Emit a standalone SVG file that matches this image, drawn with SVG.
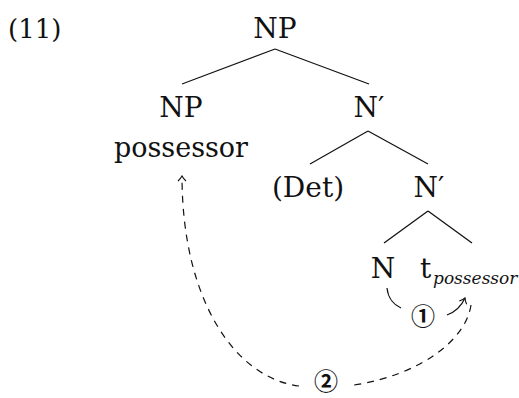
<svg xmlns="http://www.w3.org/2000/svg" width="519" height="398" viewBox="0 0 519 398">
<defs>
<style>
text{font-family:"DejaVu Serif","Liberation Serif",serif;fill:#111;}
.lab{font-size:28px;text-anchor:middle;}
.sub{font-size:17px;font-style:italic;}
.circ{font-family:"Noto Sans CJK JP","DejaVu Sans",sans-serif;font-size:24px;font-weight:bold;text-anchor:middle;}
.edge{stroke:#111;stroke-width:1.2;fill:none;}
.dash{stroke-dasharray:7,6;}
</style>
<marker id="arr" viewBox="-6 -6 8 12" markerWidth="8" markerHeight="12" refX="0" refY="0" orient="auto" markerUnits="userSpaceOnUse">
<path d="M-5,-4 Q-2,-1 0,0 Q-2,1 -5,4" fill="none" stroke="#111" stroke-width="1.1"/>
</marker>
</defs>
<text x="8" y="38" style="font-size:26px">(11)</text>
<g id="connectors">
<line class="edge" x1="275" y1="49" x2="182" y2="84"/>
<line class="edge" x1="275" y1="49" x2="369" y2="84"/>
<line class="edge" x1="368" y1="131" x2="310" y2="164"/>
<line class="edge" x1="368" y1="131" x2="428" y2="164"/>
<line class="edge" x1="428" y1="211" x2="384" y2="243"/>
<line class="edge" x1="428" y1="211" x2="472" y2="243"/>
<path class="edge" d="M387,288 C388,298 394,305 401,308"/>
<path class="edge" d="M447,315 C455,312 461,307 465,298" marker-end="url(#arr)"/>
<path class="edge dash" d="M471,305 C466,340 420,375 354,385"/>
<path class="edge dash" d="M299,386 C235,378 182,300 182,176" marker-end="url(#arr)"/>
</g>
<g id="n-root"><text class="lab" x="275" y="38">NP</text></g>
<g id="n-np"><text class="lab" x="181" y="117">NP</text><text class="lab" x="181" y="157" textLength="134" lengthAdjust="spacingAndGlyphs">possessor</text></g>
<g id="n-nbar1"><text class="lab" x="369" y="117">N′</text></g>
<g id="n-det"><text class="lab" x="308" y="197">(Det)</text></g>
<g id="n-nbar2"><text class="lab" x="429" y="197">N′</text></g>
<g id="n-n"><text class="lab" x="383" y="278">N</text></g>
<g id="n-t"><text x="420" y="278" style="font-size:28px">t</text><text class="sub" x="433" y="284">possessor</text></g>
<g id="l1"><text class="circ" x="423" y="325">①</text></g>
<g id="l2"><text class="circ" x="326" y="390">②</text></g>
</svg>
